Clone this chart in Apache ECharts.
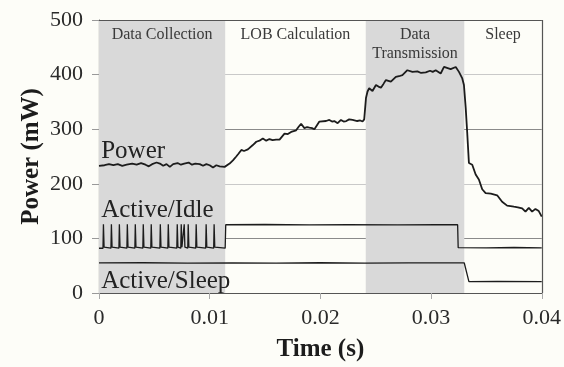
<!DOCTYPE html>
<html>
<head>
<meta charset="utf-8">
<title>Power profile</title>
<script src="https://cdn.jsdelivr.net/npm/echarts@6/dist/echarts.min.js"></script>
<style>
  html, body { margin: 0; padding: 0; background: #fdfdf8; }
  #chart { width: 564px; height: 367px; }
</style>
</head>
<body>
<div id="chart"></div>
<script>
// Time axis (s) and power axis (mW)
const xTicks = [0, 0.01, 0.02, 0.03, 0.04];
const yTicks = [0, 100, 200, 300, 400, 500];

// Operating phases: [label, start (s), end (s), shaded]
const phases = [
  ['Data Collection', 0, 0.0114, true],
  ['LOB Calculation', 0.0114, 0.0241, false],
  ['Data\nTransmission', 0.0241, 0.0330, true],
  ['Sleep', 0.0330, 0.04, false]
];

// Measured total power trace [t (s), P (mW)]
const powerTrace = [
  [0, 233], [0.0005, 234], [0.0009, 236], [0.0013, 234], [0.0017, 236], [0.0021, 233],
  [0.0025, 235], [0.003, 237], [0.0034, 235], [0.0038, 238], [0.0042, 235], [0.0045, 232],
  [0.0048, 236], [0.0052, 239], [0.0055, 237], [0.0058, 233], [0.0061, 236], [0.0064, 231],
  [0.0067, 236], [0.0071, 238], [0.0074, 235], [0.0077, 237], [0.0081, 239], [0.0084, 235],
  [0.0087, 237], [0.0091, 236], [0.0094, 233], [0.0097, 236], [0.0100, 234], [0.0103, 230],
  [0.0106, 234], [0.0109, 232], [0.01135, 231], [0.0118, 237], [0.0121, 243], [0.0124, 250],
  [0.0126, 255], [0.01286, 262], [0.0131, 260], [0.01345, 263], [0.0139, 271], [0.01421, 277],
  [0.0145, 279], [0.0148, 283], [0.01511, 279], [0.0154, 282], [0.01568, 280], [0.016, 281],
  [0.01631, 281], [0.01676, 292], [0.01706, 291], [0.01736, 295], [0.01781, 298], [0.01802, 304],
  [0.01826, 310], [0.01856, 302], [0.0188, 304], [0.01901, 303], [0.01925, 302], [0.01946, 300],
  [0.01991, 314], [0.02051, 315], [0.02081, 317], [0.02105, 314], [0.02126, 315], [0.02156, 311],
  [0.02186, 317], [0.0221, 314], [0.02234, 315], [0.0226, 318], [0.02291, 317], [0.02333, 315],
  [0.0236, 316], [0.02381, 314], [0.02396, 318], [0.02412, 357], [0.02426, 369], [0.02441, 375],
  [0.02471, 370], [0.02502, 381], [0.02525, 378], [0.02547, 376], [0.0257, 383], [0.02592, 390],
  [0.02637, 387], [0.02682, 396], [0.0271, 397], [0.02741, 399], [0.02786, 408], [0.02832, 405],
  [0.02877, 406], [0.0291, 403], [0.02952, 404], [0.02991, 407], [0.03015, 405], [0.03042, 408],
  [0.03087, 402], [0.03117, 414], [0.03177, 410], [0.03223, 414], [0.03252, 405], [0.03282, 393],
  [0.03297, 381], [0.03313, 339], [0.03327, 292], [0.03342, 238], [0.03372, 235], [0.03403, 217],
  [0.03432, 208], [0.03462, 190], [0.03493, 183], [0.0354, 182], [0.03597, 179], [0.03642, 167],
  [0.03687, 160], [0.03748, 158], [0.03784, 157], [0.03823, 155], [0.03853, 149], [0.03883, 156],
  [0.03913, 149], [0.03943, 154], [0.03973, 150], [0.04, 140]
];

// Wake-up instants of the active/idle scheme during data collection (s)
const idleWakeups = [
  0.00036, 0.00108, 0.0018, 0.00252, 0.00324, 0.00396, 0.00468, 0.0055,
  0.00622, 0.00703, 0.00739, 0.00766, 0.00802, 0.00874, 0.00964, 0.01036
];
const idleBase = 82;
const idlePeak = 126;

// Active/idle trace after data collection [t (s), P (mW)]
const idleTail = [
  [0.0114, 82], [0.01145, 125], [0.015, 125.5], [0.019, 124.6], [0.0225, 125.4],
  [0.027, 124.8], [0.0305, 125.3], [0.0324, 125], [0.03245, 83], [0.035, 82.5],
  [0.0375, 83.3], [0.04, 82.6]
];

// Active/sleep trace [t (s), P (mW)]
const sleepTrace = [
  [0, 55], [0.004, 55.4], [0.008, 54.7], [0.012, 55.3], [0.016, 54.8], [0.02, 55.4],
  [0.024, 54.8], [0.028, 55.3], [0.033, 55], [0.03342, 21], [0.036, 21.3], [0.04, 21]
];

// Assemble the active/idle series: narrow wake-up pulses, then the flat tail
const idleTrace = [[0, idleBase]];
idleWakeups.forEach(function (t) {
  idleTrace.push([t, idleBase], [t + 0.00004, idlePeak], [t + 0.0001, idleBase + 2], [t + 0.00016, idleBase]);
});
idleTail.forEach(function (p) { idleTrace.push(p); });

const serif = '"Liberation Serif", "Times New Roman", serif';
const ink = '#1c1c1c';

function seriesLabel(text, t, p) {
  return {
    symbol: 'circle',
    symbolSize: 0,
    silent: true,
    data: [{
      coord: [t, p],
      label: {
        show: true, formatter: text, position: 'right', distance: 0,
        fontFamily: serif, fontSize: 25, color: '#222'
      }
    }]
  };
}

const chart = echarts.init(document.getElementById('chart'), null, { renderer: 'canvas' });

chart.setOption({
  backgroundColor: '#fdfdf8',
  animation: false,
  grid: { left: 99, right: 21, top: 20, bottom: 67, show: false },
  xAxis: {
    type: 'value',
    min: xTicks[0],
    max: xTicks[xTicks.length - 1],
    interval: 0.01,
    name: 'Time (s)',
    nameLocation: 'middle',
    nameGap: 44,
    nameMoveOverlap: false,
    nameTextStyle: { fontFamily: serif, fontWeight: 'bold', fontSize: 25, color: ink },
    axisLine: { show: true, onZero: false, lineStyle: { color: '#555', width: 1.2 } },
    axisTick: { show: true, inside: false, length: 6, lineStyle: { color: '#aaa' } },
    axisLabel: {
      margin: 14, fontFamily: serif, fontSize: 22, color: '#2a2a2a',
      formatter: function (v) { return String(+v.toFixed(2)); }
    },
    splitLine: { show: false }
  },
  yAxis: {
    type: 'value',
    min: yTicks[0],
    max: yTicks[yTicks.length - 1],
    interval: 100,
    name: 'Power (mW)',
    nameLocation: 'middle',
    nameGap: 55,
    nameMoveOverlap: false,
    nameTextStyle: { fontFamily: serif, fontWeight: 'bold', fontSize: 25, color: ink },
    axisLine: { show: true, lineStyle: { color: '#555', width: 1.2 } },
    axisTick: { show: true, inside: false, length: 7, lineStyle: { color: '#999' } },
    axisLabel: { margin: 16, fontFamily: serif, fontSize: 22, color: '#2a2a2a' },
    splitLine: { show: true, lineStyle: { color: ['#c9c9c9', '#8a8a8a'], width: 1 } }
  },
  series: [
    {
      // phase shading and captions, kept beneath the grid lines
      type: 'line',
      z: -1,
      data: [],
      markArea: {
        silent: true,
        label: {
          show: true, position: 'insideTop', distance: 5,
          fontFamily: serif, fontSize: 16, color: '#3a3a3a', lineHeight: 19
        },
        data: phases.map(function (ph) {
          return [
            { name: ph[0], xAxis: ph[1], itemStyle: { color: ph[3] ? '#d9d9d9' : 'rgba(0,0,0,0)' } },
            { xAxis: ph[2], yAxis: 500 }
          ];
        })
      }
    },
    {
      // top and right edges of the plot frame
      type: 'line',
      data: [],
      markLine: {
        silent: true, symbol: 'none', label: { show: false },
        lineStyle: { color: '#555', width: 1.2, type: 'solid' },
        data: [{ yAxis: 500 }, { xAxis: 0.04 }]
      }
    },
    {
      name: 'Power',
      type: 'line',
      data: powerTrace,
      showSymbol: false,
      lineStyle: { color: ink, width: 1.8 },
      markPoint: seriesLabel('Power', 0.0002, 260)
    },
    {
      name: 'Active/Idle',
      type: 'line',
      data: idleTrace,
      showSymbol: false,
      lineStyle: { color: ink, width: 1.3 },
      markPoint: seriesLabel('Active/Idle', 0.0002, 151)
    },
    {
      name: 'Active/Sleep',
      type: 'line',
      data: sleepTrace,
      showSymbol: false,
      lineStyle: { color: ink, width: 1.3 },
      markPoint: seriesLabel('Active/Sleep', 0.0002, 22)
    }
  ]
});
</script>
</body>
</html>
